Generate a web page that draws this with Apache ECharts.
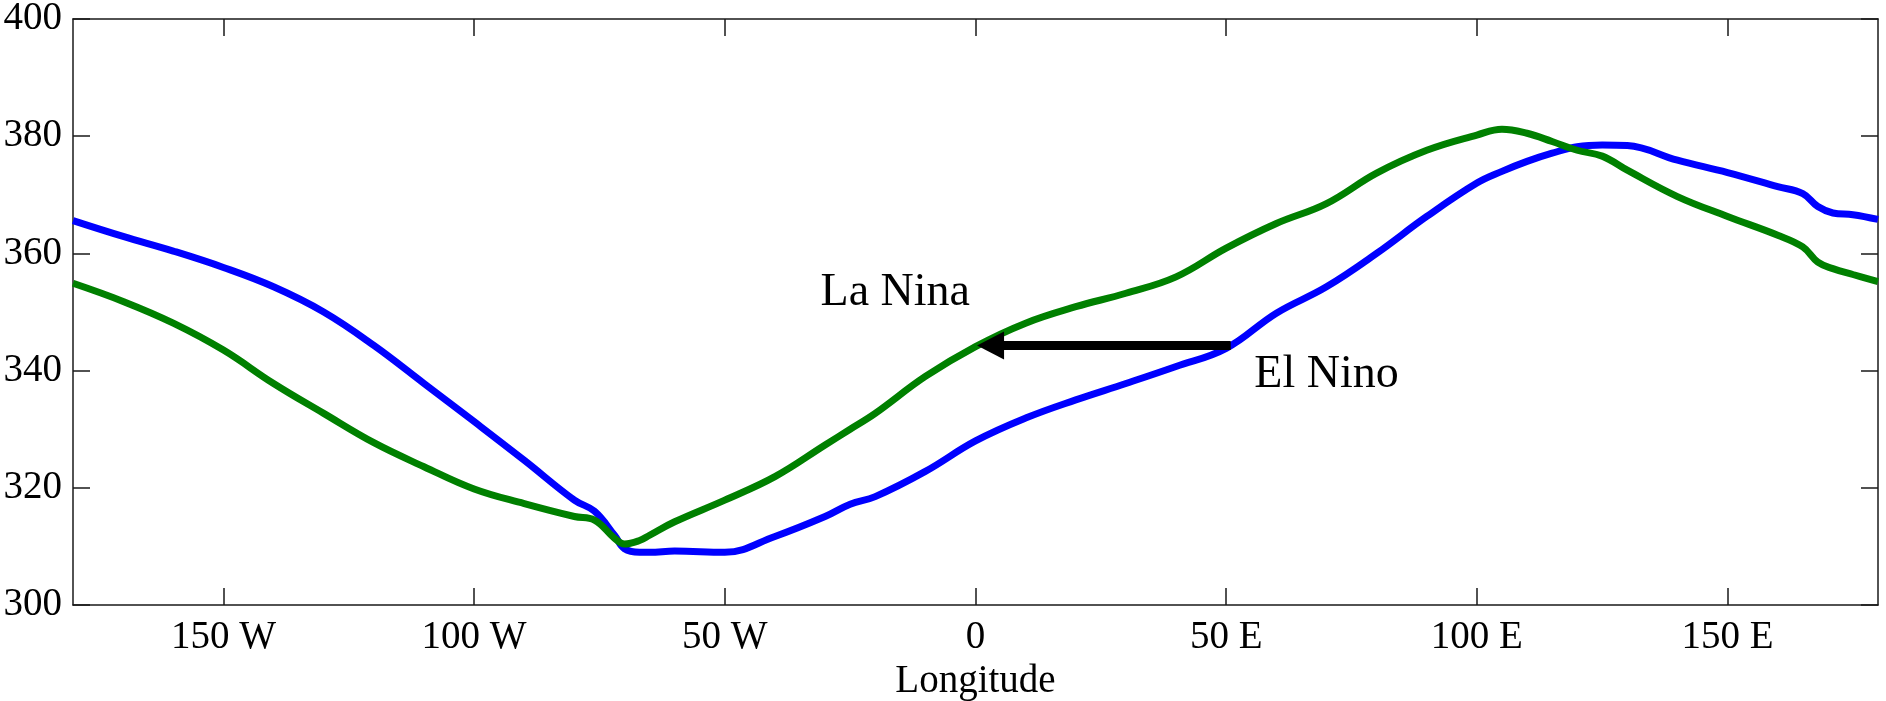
<!DOCTYPE html>
<html>
<head>
<meta charset="utf-8">
<script src="https://cdn.jsdelivr.net/npm/echarts@6/dist/echarts.min.js"></script>
<style>
html,body{margin:0;padding:0;background:#fff;}
#chart{width:1886px;height:701px;}
</style>
</head>
<body>
<div id="chart"></div>
<script>
// Longitudes (negative = West, positive = East)
const longitudes = [-180,-170,-160,-150,-140,-130,-120,-110,-100,-90,-80,-76,-72,-70,-67,-65,-60,-50,-40,-30,-25,-20,-10,0,10,20,30,40,50,60,70,80,90,100,105,110,115,120,125,130,140,150,160,165,168,171,175,180];
// El Nino (blue)
const elNino = [365.6,362.9,360.4,357.6,354.3,350.0,344.3,337.8,331.3,324.7,317.9,316.0,311.9,309.6,309.0,309.0,309.2,309.0,311.7,315.1,317.2,318.5,322.8,328.0,331.9,335.0,337.8,340.7,343.8,349.8,354.3,360.0,366.3,372.0,374.0,375.7,377.1,378.2,378.5,378.4,375.9,373.8,371.4,370.2,368.0,366.9,366.6,365.8];
// La Nina (green)
const laNina = [354.9,351.8,348.1,343.5,337.8,332.7,327.7,323.6,319.8,317.3,315.1,314.5,311.4,310.4,311.0,311.9,314.2,317.9,321.9,327.3,330.0,332.7,339.0,344.1,348.1,350.9,353.2,356.0,360.9,365.1,368.5,373.7,377.6,380.2,381.2,380.5,379.1,377.6,376.6,374.2,369.7,366.3,363.1,361.1,358.5,357.4,356.4,355.2];
const xTicks = [-150,-100,-50,0,50,100,150];
const yTicks = [300,320,340,360,380,400];
// Annotations
const laNinaLabel = {text:'La Nina', lon:-16, val:353.2};
const elNinoLabel = {text:'El Nino', lon:70, val:339.3};
const arrowFrom = [50.9, 344.3];
const arrowTo = [3.0, 344.3];

const FONT = 'Liberation Serif';
const AXC = '#1a1a1a';
function lonFmt(v){ if (v < 0) return (-v) + ' W'; if (v > 0) return v + ' E'; return '0'; }

const chart = echarts.init(document.getElementById('chart'), null, {renderer:'canvas'});
const axisCommon = {
  axisLine:{show:true, onZero:false, lineStyle:{color:AXC, width:1.5}},
  splitLine:{show:false}
};
chart.setOption({
  animation:false,
  backgroundColor:'#fff',
  grid:{left:73, right:8, top:19, bottom:96, containLabel:false, outerBoundsMode:'none'},
  xAxis:[
    Object.assign({}, axisCommon, {
      type:'value', min:-180, max:180, position:'bottom',
      name:'Longitude', nameLocation:'middle', nameGap:57,
      nameTextStyle:{fontFamily:FONT, fontSize:39, color:'#000'},
      axisTick:{show:true, inside:true, length:17, customValues:xTicks, lineStyle:{color:AXC, width:1.5}},
      axisLabel:{show:true, customValues:xTicks, formatter:lonFmt, fontFamily:FONT, fontSize:39, color:'#000', margin:13}
    }),
    Object.assign({}, axisCommon, {
      type:'value', min:-180, max:180, position:'top',
      axisTick:{show:true, inside:true, length:17, customValues:xTicks, lineStyle:{color:AXC, width:1.5}},
      axisLabel:{show:false}
    })
  ],
  yAxis:[
    Object.assign({}, axisCommon, {
      type:'value', min:300, max:400, interval:20, position:'left',
      axisTick:{show:true, inside:true, length:17, lineStyle:{color:AXC, width:1.5}},
      axisLabel:{show:true, fontFamily:FONT, fontSize:39, color:'#000', margin:11,
        customValues:yTicks}
    }),
    Object.assign({}, axisCommon, {
      type:'value', min:300, max:400, interval:20, position:'right',
      axisTick:{show:true, inside:true, length:17, lineStyle:{color:AXC, width:1.5}},
      axisLabel:{show:false}
    })
  ],
  series:[
    {
      name:'El Nino', type:'line', xAxisIndex:0, yAxisIndex:0,
      data: longitudes.map((x,i)=>[x, elNino[i]]),
      showSymbol:false, smooth:0.4,
      lineStyle:{color:'#0000ff', width:7}, itemStyle:{color:'#0000ff'},
      z:3
    },
    {
      name:'La Nina', type:'line', xAxisIndex:0, yAxisIndex:0,
      data: longitudes.map((x,i)=>[x, laNina[i]]),
      showSymbol:false, smooth:0.4,
      lineStyle:{color:'#008000', width:7}, itemStyle:{color:'#008000'},
      z:4,
      markPoint:{
        symbol:'circle', symbolSize:1, itemStyle:{color:'rgba(0,0,0,0)'},
        silent:true,
        label:{show:true, position:'inside', fontFamily:FONT, fontSize:46, color:'#000',
          formatter:p=>p.name},
        data:[
          {name:laNinaLabel.text, coord:[laNinaLabel.lon, laNinaLabel.val]},
          {name:elNinoLabel.text, coord:[elNinoLabel.lon, elNinoLabel.val]}
        ]
      },
      markLine:{
        silent:true, animation:false,
        symbol:['none','triangle'], symbolSize:[28,27],
        lineStyle:{color:'#000', width:9, type:'solid'},
        label:{show:false},
        data:[[ {coord:arrowFrom}, {coord:arrowTo} ]]
      }
    }
  ]
});
</script>
</body>
</html>
